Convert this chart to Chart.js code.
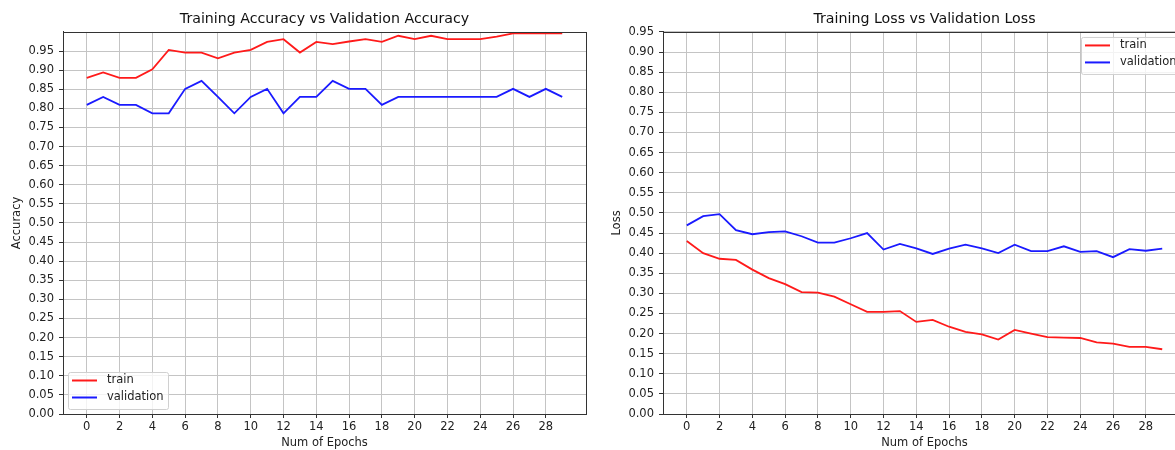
<!DOCTYPE html>
<html>
<head>
<meta charset="utf-8">
<script src="https://cdn.jsdelivr.net/npm/chart.js@4.4.1/dist/chart.umd.min.js"></script>
<style>
  body { margin: 0; background: #fff; overflow: hidden; width: 1175px; height: 450px; position: relative; }
  .box { position: absolute; top: 0; width: 600px; height: 450px; }
</style>
</head>
<body>
<div class="box" style="left:0"><canvas id="acc" width="600" height="450"></canvas></div>
<div class="box" style="left:600px"><canvas id="loss" width="600" height="450"></canvas></div>
<script>
// values
const epochs = [0,1,2,3,4,5,6,7,8,9,10,11,12,13,14,15,16,17,18,19,20,21,22,23,24,25,26,27,28,29];
const trainAcc = [0.880,0.894,0.880,0.880,0.902,0.953,0.946,0.946,0.931,0.946,0.953,0.974,0.981,0.946,0.974,0.968,0.975,0.981,0.974,0.990,0.981,0.990,0.981,0.981,0.981,0.988,0.996,0.996,0.996,0.996];
const valAcc = [0.809,0.830,0.809,0.809,0.787,0.787,0.851,0.872,0.830,0.787,0.830,0.851,0.787,0.830,0.830,0.872,0.851,0.851,0.809,0.830,0.830,0.830,0.830,0.830,0.830,0.830,0.851,0.830,0.851,0.830];
const trainLoss = [0.430,0.400,0.386,0.383,0.359,0.338,0.323,0.303,0.302,0.292,0.273,0.254,0.254,0.256,0.229,0.234,0.217,0.204,0.198,0.185,0.209,0.200,0.191,0.190,0.189,0.178,0.175,0.167,0.167,0.161];
const valLoss = [0.469,0.492,0.497,0.457,0.447,0.452,0.454,0.442,0.426,0.426,0.437,0.450,0.409,0.423,0.412,0.398,0.411,0.421,0.412,0.400,0.421,0.405,0.405,0.417,0.403,0.405,0.390,0.410,0.406,0.411];
const epochTicks = [0,2,4,6,8,10,12,14,16,18,20,22,24,26,28];
const yTicks = [0,0.05,0.10,0.15,0.20,0.25,0.30,0.35,0.40,0.45,0.50,0.55,0.60,0.65,0.70,0.75,0.80,0.85,0.90,0.95];

Chart.defaults.font.family = "'DejaVu Sans', sans-serif";
Chart.defaults.font.size = 11.5;
Chart.defaults.color = '#222';

// full box around plot area, like matplotlib spines
const frame = {
  id: 'frame',
  afterDatasetsDraw(chart) {
    const a = chart.chartArea, ctx = chart.ctx;
    ctx.save();
    ctx.strokeStyle = '#333';
    ctx.lineWidth = 1;
    ctx.strokeRect(Math.round(a.left) + 0.5, Math.round(a.top) + 0.5, Math.round(a.right - a.left), Math.round(a.bottom - a.top));
    ctx.restore();
  }
};

// legend box inside the plot
const boxLegend = {
  id: 'boxLegend',
  afterDraw(chart, args, opts) {
    const a = chart.chartArea, ctx = chart.ctx;
    const w = 100, h = 37;
    const x = opts.corner === 'tr' ? a.right - 5 - w : a.left + 5;
    const y = opts.corner === 'tr' ? a.top + 5 : a.bottom - 5 - h;
    ctx.save();
    ctx.fillStyle = 'rgba(255,255,255,0.8)';
    ctx.strokeStyle = '#d0d0d0';
    ctx.lineWidth = 1;
    ctx.beginPath();
    ctx.roundRect(x + 0.5, y + 0.5, w, h, 2);
    ctx.fill();
    ctx.stroke();
    chart.data.datasets.forEach((ds, i) => {
      const ry = y + 8.5 + i * 17;
      ctx.strokeStyle = ds.borderColor;
      ctx.lineWidth = 2;
      ctx.beginPath();
      ctx.moveTo(x + 4, ry);
      ctx.lineTo(x + 29, ry);
      ctx.stroke();
      ctx.fillStyle = '#222';
      ctx.font = "11.5px 'DejaVu Sans'";
      ctx.textBaseline = 'middle';
      ctx.fillText(ds.label, x + 39, ry);
    });
    ctx.restore();
  }
};

function makeChart(id, title, yTitle, yMax, train, val, corner) {
  return new Chart(document.getElementById(id), {
    type: 'line',
    data: {
      datasets: [{
        label: 'train',
        data: epochs.map((e, i) => ({x: e, y: train[i]})),
        borderColor: '#ff1a1a',
        borderWidth: 1.8,
        pointRadius: 0,
        tension: 0
      }, {
        label: 'validation',
        data: epochs.map((e, i) => ({x: e, y: val[i]})),
        borderColor: '#1a1aff',
        borderWidth: 1.8,
        pointRadius: 0,
        tension: 0
      }]
    },
    options: {
      responsive: false,
      animation: false,
      layout: { padding: { left: 0, right: 14, top: 0, bottom: 0 } },
      plugins: {
        legend: { display: false },
        tooltip: { enabled: false },
        title: {
          display: true,
          fullSize: false,
          text: title,
          color: '#111',
          font: { size: 14.2, weight: 'normal' },
          padding: { top: 10.4, bottom: 4.5 }
        },
        boxLegend: { corner }
      },
      scales: {
        x: {
          type: 'linear',
          min: -1.45,
          max: 30.45,
          afterBuildTicks: (scale) => { scale.ticks = epochTicks.map(v => ({value: v})); },
          afterFit: (scale) => { scale.height = 36; },
          ticks: { autoSkip: false, maxRotation: 0, padding: 2, callback: (v) => String(v) },
          grid: { color: '#c4c4c4', lineWidth: 1, tickLength: 4, tickColor: '#333' },
          border: { display: true, color: '#333' },
          title: { display: true, text: 'Num of Epochs', color: '#222', padding: { top: 0, bottom: 0 } }
        },
        y: {
          min: 0,
          max: yMax,
          afterBuildTicks: (scale) => { scale.ticks = yTicks.map(v => ({value: v})); },
          afterFit: (scale) => { scale.width = 63; },
          ticks: { autoSkip: false, padding: 5, callback: (v) => v.toFixed(2) },
          grid: { color: '#c4c4c4', lineWidth: 1, tickLength: 4, tickColor: '#333' },
          border: { display: true, color: '#333' },
          title: { display: true, text: yTitle, color: '#222', padding: { top: 10, bottom: 4 } }
        }
      }
    },
    plugins: [frame, boxLegend]
  });
}

makeChart('acc', 'Training Accuracy vs Validation Accuracy', 'Accuracy', 1.0, trainAcc, valAcc, 'bl');
makeChart('loss', 'Training Loss vs Validation Loss', 'Loss', 0.95, trainLoss, valLoss, 'tr');
</script>
</body>
</html>
